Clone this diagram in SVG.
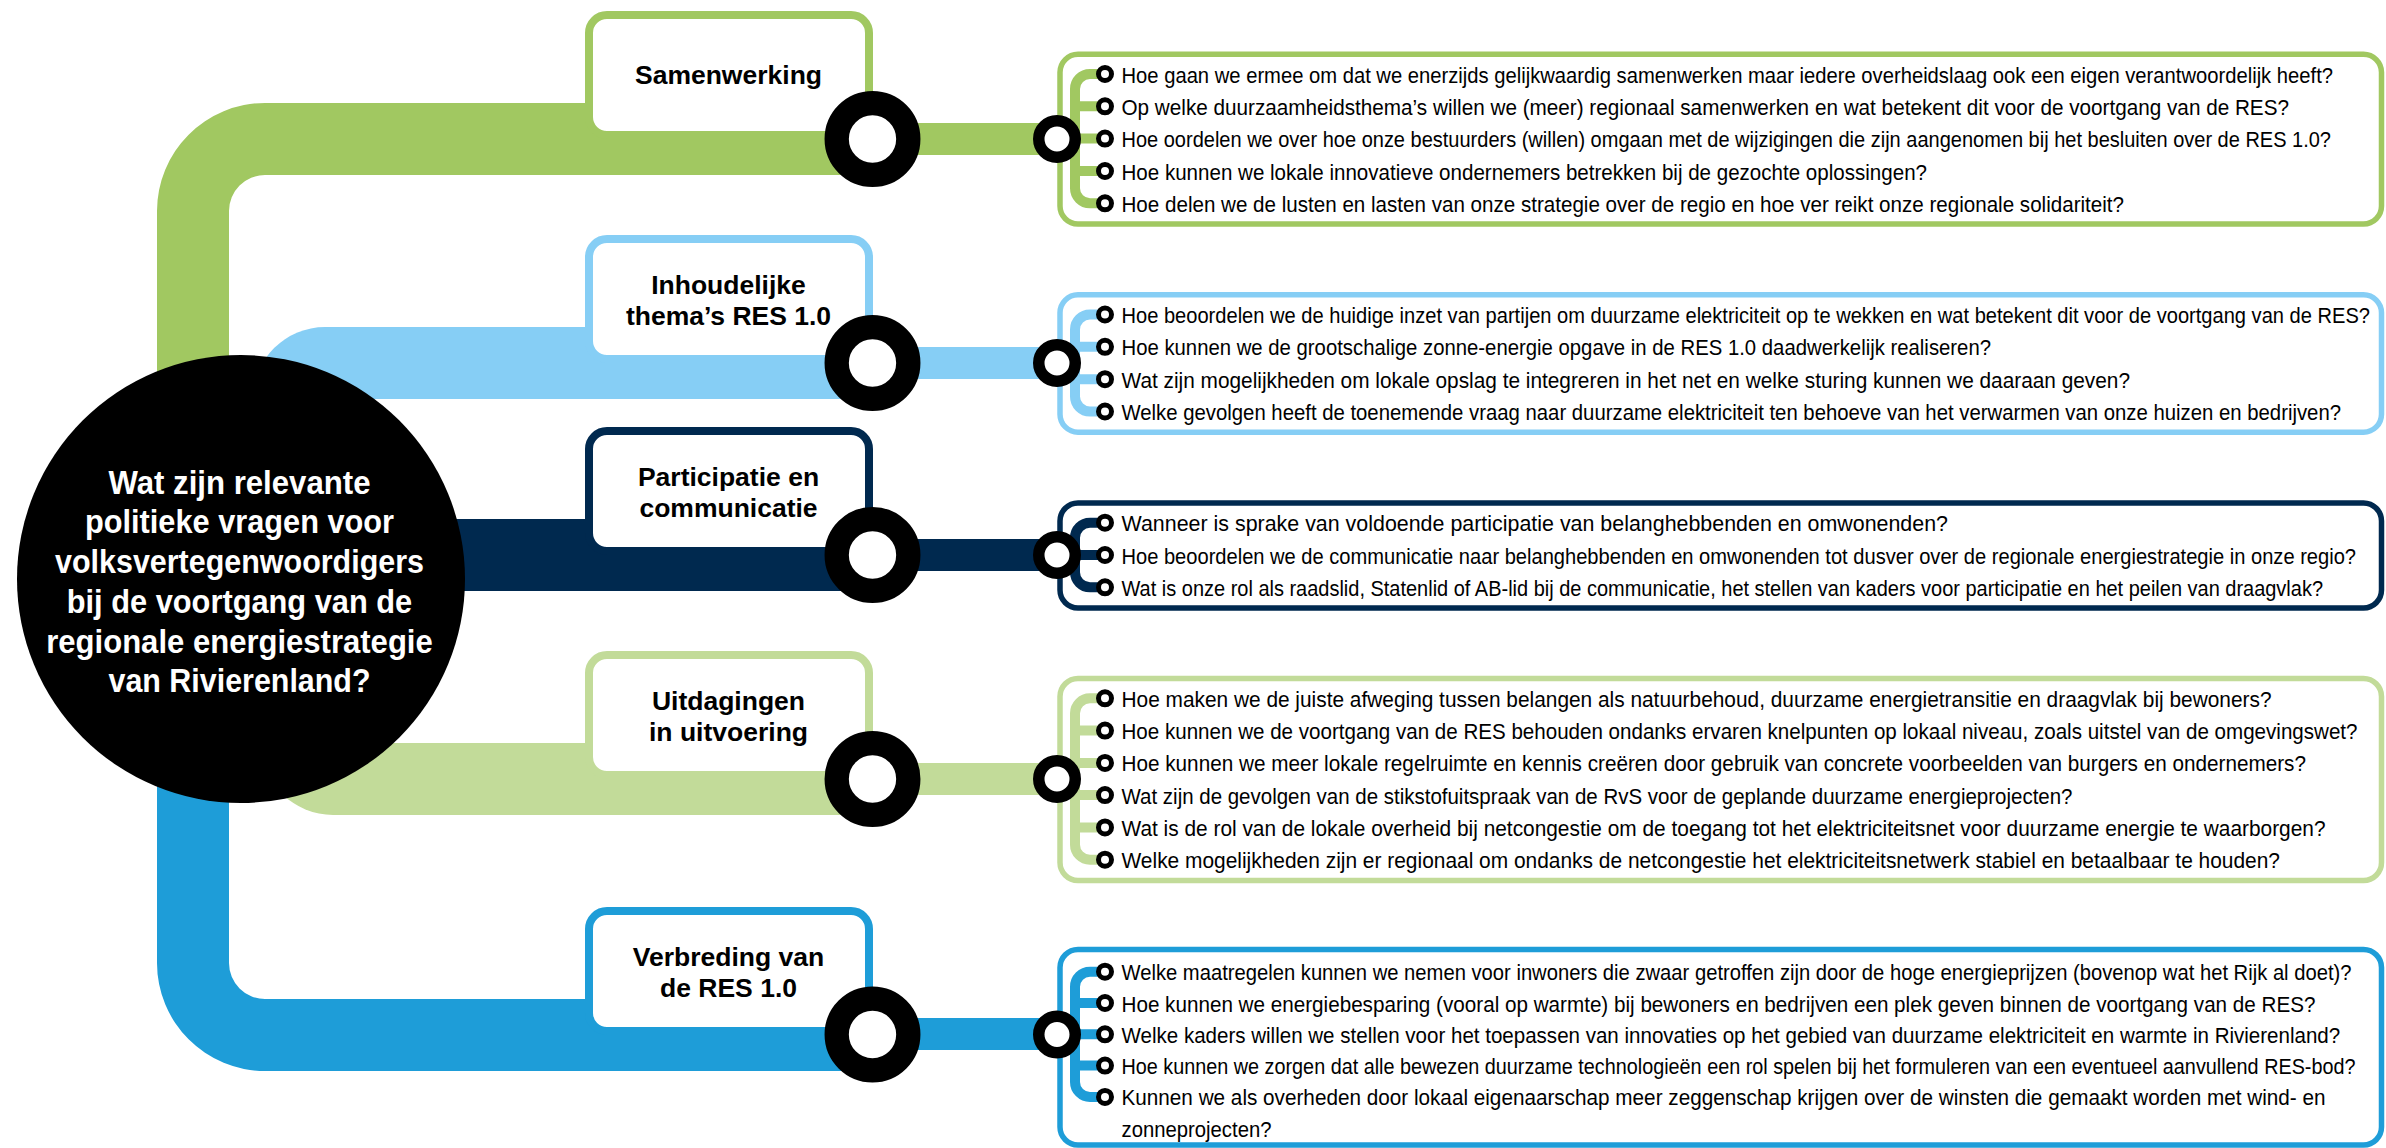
<svg xmlns="http://www.w3.org/2000/svg" width="2386" height="1148" viewBox="0 0 2386 1148">
<style>
.q{font-family:"Liberation Sans Narrow","Liberation Sans",Arial,sans-serif;font-size:22.5px;fill:#000}
.t{font-family:"Liberation Sans",Arial,sans-serif;font-weight:bold;font-size:26.5px;fill:#000;text-anchor:middle}
.c{font-family:"Liberation Sans",Arial,sans-serif;font-weight:bold;font-size:32.5px;fill:#fff;text-anchor:middle}
.tbox{fill:#fff;stroke-width:8}
.qbox{fill:none;stroke-width:5.5}
.ring{fill:#fff;stroke:#000;stroke-width:24.3}
.sring{fill:#fff;stroke:#000;stroke-width:11.5}
.bul{fill:#fff;stroke:#000;stroke-width:5}
.br{fill:none;stroke-width:10}
.g1{fill:#A1C861}.s1{stroke:#A1C861}
.g2{fill:#86CEF5}.s2{stroke:#86CEF5}
.g3{fill:#00294F}.s3{stroke:#00294F}
.g4{fill:#C2DB99}.s4{stroke:#C2DB99}
.g5{fill:#1E9DD8}.s5{stroke:#1E9DD8}
</style>
<defs>
<circle id="bullet" class="bul" r="6.5"/>
</defs>
<g id="connectors">
  <path class="g1" d="M872 103 L265 103 A108 108 0 0 0 157 211 L157 480 L229 480 L229 211 A36 36 0 0 1 265 175 L872 175 Z"/>
  <path class="g2" d="M872 327 L325 327 A72 72 0 0 0 253 399 L872 399 Z"/>
  <rect class="g3" x="380" y="519" width="492" height="72"/>
  <path class="g4" d="M872 743 L261 743 A72 72 0 0 0 333 815 L872 815 Z"/>
  <path class="g5" d="M157 700 L157 963 A108 108 0 0 0 265 1071 L872 1071 L872 999 L265 999 A36 36 0 0 1 229 963 L229 700 Z"/>
  <rect class="g1" x="872" y="123" width="185" height="32"/>
  <rect class="g2" x="872" y="347" width="185" height="32"/>
  <rect class="g3" x="872" y="539" width="185" height="32"/>
  <rect class="g4" x="872" y="763" width="185" height="32"/>
  <rect class="g5" x="872" y="1018" width="185" height="32"/>
  <path class="br s1" d="M1105 74 H1090 A15 15 0 0 0 1075 89 V188.3 A15 15 0 0 0 1090 203.3 H1105 M1075 106.3 H1105 M1075 138.6 H1105 M1075 171 H1105"/>
  <path class="br s2" d="M1105 314.5 H1090 A15 15 0 0 0 1075 329.5 V396.5 A15 15 0 0 0 1090 411.5 H1105 M1075 346.8 H1105 M1075 379.2 H1105"/>
  <path class="br s3" d="M1105 522.7 H1090 A15 15 0 0 0 1075 537.7 V572.3 A15 15 0 0 0 1090 587.3 H1105 M1075 555 H1105"/>
  <path class="br s4" d="M1105 698.3 H1090 A15 15 0 0 0 1075 713.3 V844.7 A15 15 0 0 0 1090 859.7 H1105 M1075 730.6 H1105 M1075 762.9 H1105 M1075 795.1 H1105 M1075 827.4 H1105"/>
  <path class="br s5" d="M1105 971.7 H1090 A15 15 0 0 0 1075 986.7 V1081.9 A15 15 0 0 0 1090 1096.9 H1105 M1075 1003 H1105 M1075 1034.3 H1105 M1075 1065.6 H1105"/>
</g>
<g id="center">
  <circle cx="241" cy="579" r="224" fill="#000"/>
  <text class="c" x="239.5" y="493.5" textLength="262" lengthAdjust="spacingAndGlyphs">Wat zijn relevante</text>
  <text class="c" x="239.5" y="533.3" textLength="309" lengthAdjust="spacingAndGlyphs">politieke vragen voor</text>
  <text class="c" x="239.5" y="573" textLength="369" lengthAdjust="spacingAndGlyphs">volksvertegenwoordigers</text>
  <text class="c" x="239.5" y="612.8" textLength="345.5" lengthAdjust="spacingAndGlyphs">bij de voortgang van de</text>
  <text class="c" x="239.5" y="652.5" textLength="386.5" lengthAdjust="spacingAndGlyphs">regionale energiestrategie</text>
  <text class="c" x="239.5" y="692.3" textLength="262" lengthAdjust="spacingAndGlyphs">van Rivierenland?</text>
</g>
<g id="node-samenwerking">
  <rect class="tbox s1" x="589" y="15" width="280" height="120" rx="18"/>
  <text class="t" x="728.5" y="84">Samenwerking</text>
  <circle class="ring" cx="872.5" cy="139" r="35.8"/>
</g>
<g id="node-inhoudelijke">
  <rect class="tbox s2" x="589" y="239" width="280" height="120" rx="18"/>
  <text class="t" x="728.5" y="293.5">Inhoudelijke</text>
  <text class="t" x="728.5" y="324.5">thema’s RES 1.0</text>
  <circle class="ring" cx="872.5" cy="363" r="35.8"/>
</g>
<g id="node-participatie">
  <rect class="tbox s3" x="589" y="431" width="280" height="120" rx="18"/>
  <text class="t" x="728.5" y="485.5">Participatie en</text>
  <text class="t" x="728.5" y="516.5">communicatie</text>
  <circle class="ring" cx="872.5" cy="555" r="35.8"/>
</g>
<g id="node-uitdagingen">
  <rect class="tbox s4" x="589" y="655" width="280" height="120" rx="18"/>
  <text class="t" x="728.5" y="709.5">Uitdagingen</text>
  <text class="t" x="728.5" y="740.5">in uitvoering</text>
  <circle class="ring" cx="872.5" cy="779" r="35.8"/>
</g>
<g id="node-verbreding">
  <rect class="tbox s5" x="589" y="911" width="280" height="120" rx="18"/>
  <text class="t" x="728.5" y="965.5">Verbreding van</text>
  <text class="t" x="728.5" y="996.5">de RES 1.0</text>
  <circle class="ring" cx="872.5" cy="1034.5" r="35.8"/>
</g>
<g id="questions-samenwerking">
  <rect class="qbox s1" x="1060" y="54.3" width="1321.5" height="169.7" rx="18"/>
  <circle class="sring" cx="1057" cy="139" r="18.25"/>
  <use href="#bullet" x="1105" y="74"/><use href="#bullet" x="1105" y="106.3"/><use href="#bullet" x="1105" y="138.6"/><use href="#bullet" x="1105" y="171"/><use href="#bullet" x="1105" y="203.3"/>
  <text class="q" x="1121.5" y="82.5" textLength="1211.5" lengthAdjust="spacingAndGlyphs">Hoe gaan we ermee om dat we enerzijds gelijkwaardig samenwerken maar iedere overheidslaag ook een eigen verantwoordelijk heeft?</text>
  <text class="q" x="1121.5" y="114.8" textLength="1167.5" lengthAdjust="spacingAndGlyphs">Op welke duurzaamheidsthema’s willen we (meer) regionaal samenwerken en wat betekent dit voor de voortgang van de RES?</text>
  <text class="q" x="1121.5" y="147.1" textLength="1209.5" lengthAdjust="spacingAndGlyphs">Hoe oordelen we over hoe onze bestuurders (willen) omgaan met de wijzigingen die zijn aangenomen bij het besluiten over de RES 1.0?</text>
  <text class="q" x="1121.5" y="179.5" textLength="805.5" lengthAdjust="spacingAndGlyphs">Hoe kunnen we lokale innovatieve ondernemers betrekken bij de gezochte oplossingen?</text>
  <text class="q" x="1121.5" y="211.8" textLength="1002.5" lengthAdjust="spacingAndGlyphs">Hoe delen we de lusten en lasten van onze strategie over de regio en hoe ver reikt onze regionale solidariteit?</text>
</g>
<g id="questions-inhoudelijke">
  <rect class="qbox s2" x="1060" y="294.8" width="1321.5" height="137.4" rx="18"/>
  <circle class="sring" cx="1057" cy="363" r="18.25"/>
  <use href="#bullet" x="1105" y="314.5"/><use href="#bullet" x="1105" y="346.8"/><use href="#bullet" x="1105" y="379.2"/><use href="#bullet" x="1105" y="411.5"/>
  <text class="q" x="1121.5" y="323" textLength="1248.5" lengthAdjust="spacingAndGlyphs">Hoe beoordelen we de huidige inzet van partijen om duurzame elektriciteit op te wekken en wat betekent dit voor de voortgang van de RES?</text>
  <text class="q" x="1121.5" y="355.3" textLength="869.5" lengthAdjust="spacingAndGlyphs">Hoe kunnen we de grootschalige zonne-energie opgave in de RES 1.0 daadwerkelijk realiseren?</text>
  <text class="q" x="1121.5" y="387.7" textLength="1008.5" lengthAdjust="spacingAndGlyphs">Wat zijn mogelijkheden om lokale opslag te integreren in het net en welke sturing kunnen we daaraan geven?</text>
  <text class="q" x="1121.5" y="420" textLength="1219.5" lengthAdjust="spacingAndGlyphs">Welke gevolgen heeft de toenemende vraag naar duurzame elektriciteit ten behoeve van het verwarmen van onze huizen en bedrijven?</text>
</g>
<g id="questions-participatie">
  <rect class="qbox s3" x="1060" y="503" width="1321.5" height="105" rx="18"/>
  <circle class="sring" cx="1057" cy="555" r="18.25"/>
  <use href="#bullet" x="1105" y="522.7"/><use href="#bullet" x="1105" y="555"/><use href="#bullet" x="1105" y="587.3"/>
  <text class="q" x="1121.5" y="531.2" textLength="826.5" lengthAdjust="spacingAndGlyphs">Wanneer is sprake van voldoende participatie van belanghebbenden en omwonenden?</text>
  <text class="q" x="1121.5" y="563.5" textLength="1234.5" lengthAdjust="spacingAndGlyphs">Hoe beoordelen we de communicatie naar belanghebbenden en omwonenden tot dusver over de regionale energiestrategie in onze regio?</text>
  <text class="q" x="1121.5" y="595.8" textLength="1201.5" lengthAdjust="spacingAndGlyphs">Wat is onze rol als raadslid, Statenlid of AB-lid bij de communicatie, het stellen van kaders voor participatie en het peilen van draagvlak?</text>
</g>
<g id="questions-uitdagingen">
  <rect class="qbox s4" x="1060" y="678.5" width="1321.5" height="202" rx="18"/>
  <circle class="sring" cx="1057" cy="779" r="18.25"/>
  <use href="#bullet" x="1105" y="698.3"/><use href="#bullet" x="1105" y="730.6"/><use href="#bullet" x="1105" y="762.9"/><use href="#bullet" x="1105" y="795.1"/><use href="#bullet" x="1105" y="827.4"/><use href="#bullet" x="1105" y="859.7"/>
  <text class="q" x="1121.5" y="706.8" textLength="1150" lengthAdjust="spacingAndGlyphs">Hoe maken we de juiste afweging tussen belangen als natuurbehoud, duurzame energietransitie en draagvlak bij bewoners?</text>
  <text class="q" x="1121.5" y="739.1" textLength="1236" lengthAdjust="spacingAndGlyphs">Hoe kunnen we de voortgang van de RES behouden ondanks ervaren knelpunten op lokaal niveau, zoals uitstel van de omgevingswet?</text>
  <text class="q" x="1121.5" y="771.4" textLength="1184.5" lengthAdjust="spacingAndGlyphs">Hoe kunnen we meer lokale regelruimte en kennis creëren door gebruik van concrete voorbeelden van burgers en ondernemers?</text>
  <text class="q" x="1121.5" y="803.6" textLength="951" lengthAdjust="spacingAndGlyphs">Wat zijn de gevolgen van de stikstofuitspraak van de RvS voor de geplande duurzame energieprojecten?</text>
  <text class="q" x="1121.5" y="835.9" textLength="1204" lengthAdjust="spacingAndGlyphs">Wat is de rol van de lokale overheid bij netcongestie om de toegang tot het elektriciteitsnet voor duurzame energie te waarborgen?</text>
  <text class="q" x="1121.5" y="868.2" textLength="1158.5" lengthAdjust="spacingAndGlyphs">Welke mogelijkheden zijn er regionaal om ondanks de netcongestie het elektriciteitsnetwerk stabiel en betaalbaar te houden?</text>
</g>
<g id="questions-verbreding">
  <rect class="qbox s5" x="1060" y="949.5" width="1321.5" height="195.5" rx="18"/>
  <circle class="sring" cx="1057" cy="1034.5" r="18.25"/>
  <use href="#bullet" x="1105" y="971.7"/><use href="#bullet" x="1105" y="1003"/><use href="#bullet" x="1105" y="1034.3"/><use href="#bullet" x="1105" y="1065.6"/><use href="#bullet" x="1105" y="1096.9"/>
  <text class="q" x="1121.5" y="980.2" textLength="1230" lengthAdjust="spacingAndGlyphs">Welke maatregelen kunnen we nemen voor inwoners die zwaar getroffen zijn door de hoge energieprijzen (bovenop wat het Rijk al doet)?</text>
  <text class="q" x="1121.5" y="1011.5" textLength="1194" lengthAdjust="spacingAndGlyphs">Hoe kunnen we energiebesparing (vooral op warmte) bij bewoners en bedrijven een plek geven binnen de voortgang van de RES?</text>
  <text class="q" x="1121.5" y="1042.8" textLength="1218.7" lengthAdjust="spacingAndGlyphs">Welke kaders willen we stellen voor het toepassen van innovaties op het gebied van duurzame elektriciteit en warmte in Rivierenland?</text>
  <text class="q" x="1121.5" y="1074.1" textLength="1234" lengthAdjust="spacingAndGlyphs">Hoe kunnen we zorgen dat alle bewezen duurzame technologieën een rol spelen bij het formuleren van een eventueel aanvullend RES-bod?</text>
  <text class="q" x="1121.5" y="1105.4" textLength="1204" lengthAdjust="spacingAndGlyphs">Kunnen we als overheden door lokaal eigenaarschap meer zeggenschap krijgen over de winsten die gemaakt worden met wind- en</text>
  <text class="q" x="1121.5" y="1136.5" textLength="150" lengthAdjust="spacingAndGlyphs">zonneprojecten?</text>
</g>
</svg>
